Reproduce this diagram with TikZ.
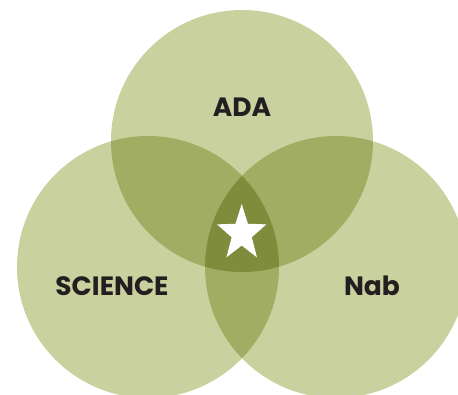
\documentclass[tikz,border=0pt]{standalone}
\usepackage{fontspec}
\setmainfont{Poppins}
\usetikzlibrary{shapes.geometric}

\definecolor{venlight}{HTML}{C9D29E}
\definecolor{venmid}{HTML}{A1AD63}
\definecolor{vendark}{HTML}{7F8C3C}
\definecolor{venink}{HTML}{231F20}

\begin{document}
\begin{tikzpicture}[x=1pt, y=-1pt,
    % Styles
    label/.style={font=\fontsize{26.5}{26.5}\selectfont\bfseries, text=venink, anchor=base, inner sep=0pt},
    centrestar/.style={star, star points=5, star point ratio=2.45, fill=white, minimum size=59pt, inner sep=0pt, xscale=0.88},
]
\useasboundingbox (0,0) rectangle (458,394);
\def\radius{131}

% Circle centres
\coordinate (ada) at (242,141);
\coordinate (science) at (148,267);
\coordinate (nab) at (336,267);

% Single circles
\fill[venlight] (ada) circle[radius=\radius];
\fill[venlight] (science) circle[radius=\radius];
\fill[venlight] (nab) circle[radius=\radius];

% Pairwise overlaps
\begin{scope}
    \clip (ada) circle[radius=\radius];
    \fill[venmid] (science) circle[radius=\radius];
    \fill[venmid] (nab) circle[radius=\radius];
\end{scope}
\begin{scope}
    \clip (science) circle[radius=\radius];
    \fill[venmid] (nab) circle[radius=\radius];
\end{scope}

% Centre overlap
\begin{scope}
    \clip (ada) circle[radius=\radius];
    \clip (science) circle[radius=\radius];
    \fill[vendark] (nab) circle[radius=\radius];
\end{scope}

% Labels
\node[label] (ada-label) at (242,116) {ADA};
\node[label] (science-label) at (112,295) {SCIENCE};
\node[label] (nab-label) at (372,295) {Nab};

\node[centrestar] (star) at (241.7,233.5) {};

\end{tikzpicture}
\end{document}
